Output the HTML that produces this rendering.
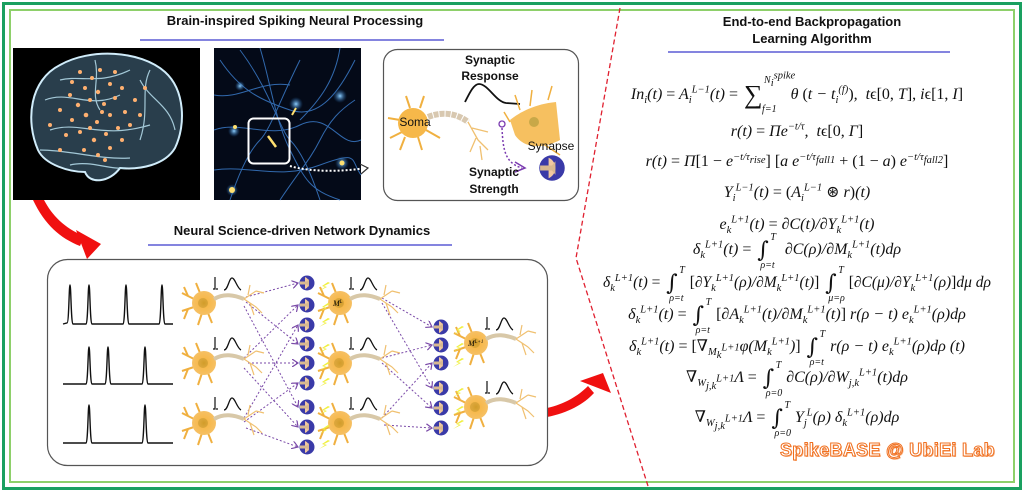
<!DOCTYPE html>
<html><head><meta charset="utf-8">
<style>
html,body{margin:0;padding:0;background:#fff;}
#c{position:relative;width:1024px;height:492px;overflow:hidden;background:#fff;font-family:"Liberation Sans",sans-serif;}
svg{position:absolute;left:0;top:0;}
.t{position:absolute;font-weight:bold;font-size:13px;color:#111;text-align:center;white-space:nowrap;}
.eq{position:absolute;left:587px;width:420px;text-align:center;font-family:"Liberation Serif","DejaVu Serif",serif;font-style:italic;font-size:16px;color:#111;white-space:nowrap;line-height:18px;}
.eq sup,.eq sub{font-size:10.5px;line-height:0;}
.n{font-style:normal;}
.int{display:inline-block;position:relative;font-family:"DejaVu Serif",serif;font-size:22px;line-height:18px;height:18px;font-style:normal;vertical-align:-3px;margin:0 12px 0 2px;}
.int .hi{position:absolute;left:13px;top:-9px;font-size:10px;line-height:10px;font-style:italic;font-family:"Liberation Serif",serif;}
.int .lo{position:absolute;left:3px;top:19px;font-size:10px;line-height:10px;font-style:italic;font-family:"Liberation Serif",serif;white-space:nowrap;}
.sum{display:inline-block;position:relative;font-size:26px;line-height:18px;height:18px;font-style:normal;vertical-align:-4px;margin:0 28px 0 2px;}
.sum .hi{position:absolute;left:20px;top:-10px;font-size:10px;line-height:10px;font-style:italic;white-space:nowrap;}
.sum .lo{position:absolute;left:18px;top:19px;font-size:10px;line-height:10px;font-style:italic;white-space:nowrap;}
</style></head><body><div id="c">
<svg width="1024" height="492" viewBox="0 0 1024 492">
<defs>
<radialGradient id="so" cx="50%" cy="50%" r="50%"><stop offset="0" stop-color="#e0a020"/><stop offset="0.35" stop-color="#f7b84a"/><stop offset="1" stop-color="#f6c064"/></radialGradient>
<radialGradient id="bl" cx="50%" cy="50%" r="50%"><stop offset="0" stop-color="#8fd0ff"/><stop offset="1" stop-color="#1a5aa0" stop-opacity="0"/></radialGradient>
<marker id="pa" markerWidth="8" markerHeight="8" refX="6" refY="4" orient="auto"><path d="M0,0 L6,4 L0,8" fill="none" stroke="#7a4aa8" stroke-width="1.2"/></marker>
<g id="syn"><circle r="7.5" fill="#3a3aa8"/><path d="M-2,-6 A6.5,6.5 0 0 1 -2,6 Z" fill="#f0c8a0"/><path d="M-7,-1.5 L0,-1.5 L2,-4 L2,4 L0,1.5 L-7,1.5Z" fill="#d8b890"/></g>
<g id="neu">
<path d="M-10,-4 L-22,-10 M-10,4 L-22,8 M-4,-10 L-8,-20 M-2,10 L-6,22 M-16,-7 L-20,-16 M-16,6 L-20,16 M4,10 L8,20" stroke="#f0b040" stroke-width="2" fill="none"/>
<circle r="12" fill="url(#so)"/>
<circle r="5" cx="-1" cy="0" fill="#c89a30" opacity="0.6"/>
<path d="M10,-4 C20,-10 30,-8 40,-4" stroke="#d8c8a8" stroke-width="4" fill="none"/>
<path d="M40,-4 L52,-12 M40,-4 L52,4 M46,0 L50,12 M44,-8 L46,-18 M52,4 L58,10 M52,-12 L60,-10" stroke="#f0c070" stroke-width="1.2" fill="none"/>
<path d="M11,-26 L11,-14 L9,-14 M14,-14 L12,-14" stroke="#111" stroke-width="1.2" fill="none"/>
<path d="M20,-13 C24,-13 25,-25 28,-25 C31,-25 33,-15 37,-13" stroke="#111" stroke-width="1.3" fill="none"/>
</g>
<g id="bolt"><path d="M0,0 L-6,4 L-3,5 L-9,9 L-1,5 L-4,4 L2,1 Z" fill="#f0f040"/></g>
</defs>
<rect x="3.5" y="3.5" width="1017" height="485" fill="none" stroke="#1aa060" stroke-width="3"/>
<rect x="10" y="10" width="1004" height="472" fill="none" stroke="#8ed06a" stroke-width="2"/>
<line x1="140" y1="40" x2="444" y2="40" stroke="#3a3acc" stroke-width="1.3"/>
<line x1="148" y1="245" x2="452" y2="245" stroke="#3a3acc" stroke-width="1.3"/>
<line x1="668" y1="52" x2="950" y2="52" stroke="#3a3acc" stroke-width="1.3"/>
<polyline points="620,8 576,258 648,486" fill="none" stroke="#e02030" stroke-width="1.3" stroke-dasharray="5,3"/>
<rect x="13" y="48" width="187" height="152" fill="#000"/>
<path d="M38,150 C25,120 30,80 60,65 C90,48 140,50 165,72 C185,90 186,125 175,148 C165,165 140,170 120,168 C110,182 90,185 85,172 C70,172 45,165 38,150Z" fill="#5a8aa8" fill-opacity="0.45" stroke="#d0ecfa" stroke-width="2"/>
<path d="M45,100 C70,90 90,110 120,95 M50,130 C80,120 100,140 150,125 M60,80 C80,75 100,85 130,70 M140,80 C150,100 170,105 175,130 M40,150 C70,150 100,160 130,158 M95,60 C100,80 90,95 100,110 M150,70 C140,90 150,110 140,140 M70,165 C90,160 110,170 125,168" stroke="#b8e0f0" stroke-width="1.2" fill="none" opacity="0.85"/>
<g fill="#ffb070">
<circle cx="80" cy="72" r="2"/><circle cx="92" cy="78" r="2"/><circle cx="85" cy="88" r="2"/><circle cx="100" cy="70" r="2"/><circle cx="98" cy="92" r="2.2"/><circle cx="110" cy="84" r="2"/><circle cx="70" cy="95" r="2"/><circle cx="78" cy="105" r="2.2"/><circle cx="90" cy="100" r="2"/><circle cx="104" cy="104" r="2"/><circle cx="115" cy="98" r="2"/><circle cx="122" cy="88" r="2"/><circle cx="60" cy="110" r="2"/><circle cx="72" cy="120" r="2"/><circle cx="86" cy="115" r="2.3"/><circle cx="97" cy="122" r="2"/><circle cx="110" cy="115" r="2"/><circle cx="125" cy="112" r="2"/><circle cx="135" cy="100" r="2"/><circle cx="66" cy="135" r="2"/><circle cx="80" cy="132" r="2"/><circle cx="94" cy="140" r="2.2"/><circle cx="106" cy="134" r="2"/><circle cx="118" cy="128" r="2"/><circle cx="130" cy="125" r="2"/><circle cx="50" cy="125" r="2"/><circle cx="84" cy="150" r="2"/><circle cx="98" cy="155" r="2"/><circle cx="110" cy="148" r="2"/><circle cx="122" cy="140" r="2"/><circle cx="140" cy="115" r="2"/><circle cx="60" cy="150" r="2"/><circle cx="145" cy="88" r="2"/><circle cx="115" cy="72" r="2"/><circle cx="72" cy="82" r="2"/><circle cx="105" cy="160" r="2"/><circle cx="90" cy="128" r="2"/><circle cx="102" cy="112" r="2"/>
</g>
<rect x="214" y="48" width="147" height="152" fill="#040a18"/>
<g stroke="#3a7ac8" stroke-width="1" fill="none" opacity="0.85">
<path d="M220,60 C240,90 260,100 290,110 S340,90 355,60"/><path d="M214,130 C240,120 270,140 300,125 S340,150 361,140"/><path d="M230,200 C240,170 250,150 260,140 S280,100 300,60"/><path d="M320,200 C310,170 300,150 290,140 S270,90 240,50"/><path d="M214,170 C250,165 280,180 320,165 S350,160 361,175"/><path d="M260,48 C270,80 275,120 290,150 S310,190 340,200"/><path d="M340,48 C335,80 320,100 300,120"/><path d="M214,95 C240,100 260,80 290,85"/><path d="M355,100 C340,110 330,120 320,140 S300,170 280,200"/>
</g>
<circle cx="234" cy="131" r="6" fill="url(#bl)"/><circle cx="296" cy="104" r="7" fill="url(#bl)"/><circle cx="340" cy="96" r="7" fill="url(#bl)"/><circle cx="342" cy="163" r="7" fill="url(#bl)"/><circle cx="232" cy="190" r="6" fill="url(#bl)"/><circle cx="240" cy="86" r="5" fill="url(#bl)"/>
<circle cx="232" cy="190" r="3" fill="#ffe070"/><circle cx="342" cy="163" r="2.5" fill="#ffe070"/><circle cx="235" cy="127" r="2" fill="#ffe070"/><line x1="268" y1="136" x2="276" y2="147" stroke="#ffe070" stroke-width="2.5"/><line x1="292" y1="115" x2="296" y2="108" stroke="#ffe070" stroke-width="2"/>
<rect x="248.5" y="118.5" width="41" height="45" rx="5" fill="none" stroke="#fff" stroke-width="2"/>
<path d="M290,166 C310,172 340,172 366,168" stroke="#fff" stroke-width="2" stroke-dasharray="2,2" fill="none"/>
<path d="M360,164 L368,168 L361,174" stroke="#333" stroke-width="1.2" fill="none"/>
<rect x="383.5" y="49.5" width="195" height="151" rx="14" fill="#fff" stroke="#555" stroke-width="1.2"/>
<path d="M465,102 C470,92 474,84 479,84 C488,84 496,102 506,103 L520,104" stroke="#111" stroke-width="1.8" fill="none"/>
<g stroke="#f0b040" stroke-width="2" fill="none"><path d="M400,120 L388,118 M402,132 L390,138 M410,108 L406,96 M420,108 L424,96 M418,137 L422,150 M405,137 L400,150 M426,130 L440,138"/></g>
<circle cx="413" cy="123" r="15" fill="#f6b84a"/>
<path d="M428,117 C440,112 455,112 468,122" stroke="#d8c8b0" stroke-width="6" stroke-dasharray="5,1" fill="none"/>
<path d="M468,122 L478,140 M472,128 L488,132 M476,138 L470,152 M478,140 L488,150 M480,146 L482,160" stroke="#f0c070" stroke-width="1.3" fill="none"/>
<path d="M510,120 C520,112 535,104 556,102 L560,140 C545,148 525,150 515,135 Z" fill="#f6c060"/>
<circle cx="534" cy="122" r="5" fill="#c8a848"/>
<path d="M520,110 L515,95 M530,106 L532,90 M548,100 L552,86 M510,122 L504,112 M545,145 L560,155" stroke="#f0b040" stroke-width="1.5" fill="none"/>
<circle cx="502" cy="124" r="3" fill="none" stroke="#7a3ab0" stroke-width="1.3"/>
<path d="M502,128 C503,150 505,163 522,168" stroke="#7a3ab0" stroke-width="1.5" stroke-dasharray="2,2" fill="none"/>
<path d="M515,162 L525,168 L515,172" stroke="#7a3ab0" stroke-width="1.5" fill="none"/>
<g transform="translate(552,168) scale(1.7)"><use href="#syn"/></g>
<path d="M33,200 C45,225 60,238 80,246 L84,236 C64,228 52,215 44,200 Z" fill="#f01010"/>
<path d="M76,230 L101,244 L87,259 Z" fill="#f01010"/>
<path d="M547,408 C565,404 578,396 588,386 L594,393 C584,404 568,413 547,417 Z" fill="#f01010"/>
<path d="M580,381 L603,373 L611,393 Z" fill="#f01010"/>
<rect x="47.5" y="259.5" width="500" height="206" rx="20" fill="#fff" stroke="#555" stroke-width="1.2"/>
<g stroke="#111" stroke-width="1.4" fill="none">
<path d="M63,324 L67,323 C69,323 69,285 70,285 C71,285 71,323 73,324 L86,324 C88,323 88,285 89,285 C90,285 90,323 92,324 L123,324 C125,323 125,285 126,285 C127,285 127,323 129,324 L159,324 C161,323 161,285 162,285 C163,285 163,323 165,324 L173,324"/>
<path d="M63,384 L86,384 C88,383 88,347 89,347 C90,347 90,383 92,384 L105,384 C107,383 107,347 108,347 C109,347 109,383 111,384 L142,384 C144,383 144,347 145,347 C146,347 146,383 148,384 L173,384"/>
<path d="M63,443 L86,443 C88,442 88,405 89,405 C90,405 90,442 92,443 L142,443 C144,442 144,405 145,405 C146,405 146,442 148,443 L173,443"/>
</g>
<g stroke="#7a4aa8" stroke-width="1" stroke-dasharray="2,2" fill="none" marker-end="url(#pa)">
<line x1="246" y1="297" x2="298" y2="283"/><line x1="246" y1="302" x2="298" y2="344"/><line x1="244" y1="306" x2="298" y2="407"/>
<line x1="244" y1="358" x2="298" y2="305"/><line x1="248" y1="363" x2="298" y2="363"/><line x1="244" y1="368" x2="298" y2="427"/>
<line x1="244" y1="418" x2="298" y2="325"/><line x1="244" y1="422" x2="298" y2="383"/><line x1="246" y1="428" x2="298" y2="447"/>
<line x1="382" y1="298" x2="432" y2="327"/><line x1="382" y1="303" x2="432" y2="388"/>
<line x1="382" y1="358" x2="432" y2="345"/><line x1="382" y1="363" x2="432" y2="408"/>
<line x1="382" y1="418" x2="432" y2="363"/><line x1="384" y1="425" x2="432" y2="428"/>
</g>
<use href="#neu" x="204" y="303"/><use href="#neu" x="204" y="363"/><use href="#neu" x="204" y="423"/>
<use href="#neu" x="340" y="303"/><use href="#neu" x="340" y="363"/><use href="#neu" x="340" y="423"/>
<use href="#neu" x="476" y="343"/><use href="#neu" x="476" y="407"/>
<use href="#syn" x="307" y="283"/><use href="#syn" x="307" y="305"/><use href="#syn" x="307" y="325"/><use href="#syn" x="307" y="344"/><use href="#syn" x="307" y="363"/><use href="#syn" x="307" y="383"/><use href="#syn" x="307" y="407"/><use href="#syn" x="307" y="427"/><use href="#syn" x="307" y="447"/>
<use href="#syn" x="441" y="327"/><use href="#syn" x="441" y="345"/><use href="#syn" x="441" y="363"/><use href="#syn" x="441" y="388"/><use href="#syn" x="441" y="408"/><use href="#syn" x="441" y="428"/>
<use href="#bolt" x="328" y="282"/><use href="#bolt" x="328" y="303"/><use href="#bolt" x="328" y="318"/><use href="#bolt" x="328" y="344"/><use href="#bolt" x="328" y="362"/><use href="#bolt" x="328" y="378"/><use href="#bolt" x="328" y="406"/><use href="#bolt" x="328" y="425"/><use href="#bolt" x="328" y="440"/>
<use href="#bolt" x="462" y="326"/><use href="#bolt" x="462" y="343"/><use href="#bolt" x="462" y="358"/><use href="#bolt" x="462" y="388"/><use href="#bolt" x="462" y="406"/><use href="#bolt" x="462" y="420"/>
<text x="333" y="306" font-family="Liberation Serif" font-style="italic" font-size="8">M<tspan font-size="5" dy="-3">L</tspan></text>
<text x="468" y="346" font-family="Liberation Serif" font-style="italic" font-size="8">M<tspan font-size="5" dy="-3">L+1</tspan></text>
</svg>

<div class="t" style="left:145px;top:13px;width:300px;">Brain-inspired Spiking Neural Processing</div>
<div class="t" style="left:152px;top:223px;width:300px;">Neural Science-driven Network Dynamics</div>
<div class="t" style="left:662px;top:13px;width:300px;line-height:17px;">End-to-end Backpropagation<br>Learning Algorithm</div>
<div class="t" style="left:440px;top:52px;width:100px;font-size:12px;line-height:16px;">Synaptic<br>Response</div>
<div class="t" style="left:444px;top:164px;width:100px;font-size:12px;line-height:17px;">Synaptic<br>Strength</div>
<div class="t" style="left:395px;top:115px;width:40px;font-size:12px;font-weight:normal;">Soma</div>
<div class="t" style="left:521px;top:139px;width:60px;font-size:12px;font-weight:normal;">Synapse</div>

<div class="eq" style="top:86px;">In<sub>i</sub>(t) <span class="n">=</span> A<sub>i</sub><sup>L−1</sup>(t) <span class="n">=</span> <span class="sum">∑<span class="hi">N<sub>i</sub><sup>spike</sup></span><span class="lo">f=1</span></span>θ <span class="n">(</span>t − t<sub>i</sub><sup>(f)</sup><span class="n">)</span>,&nbsp; t<span class="n">ϵ[0,</span> T<span class="n">],</span> i<span class="n">ϵ[1,</span> I<span class="n">]</span></div>
<div class="eq" style="top:123px;">r(t) <span class="n">=</span> Πe<sup>−t/τ</sup>,&nbsp; t<span class="n">ϵ[0,</span> Γ<span class="n">]</span></div>
<div class="eq" style="top:153px;">r(t) <span class="n">=</span> Π<span class="n">[1 −</span> e<sup>−t/τ<sub>rise</sub></sup><span class="n">] [</span>a e<sup>−t/τ<sub>fall1</sub></sup> <span class="n">+ (1 −</span> a<span class="n">)</span> e<sup>−t/τ<sub>fall2</sub></sup><span class="n">]</span></div>
<div class="eq" style="top:184px;">Y<sub>i</sub><sup>L−1</sup>(t) <span class="n">= (</span>A<sub>i</sub><sup>L−1</sup> <span class="n">⊛</span> r<span class="n">)</span>(t)</div>
<div class="eq" style="top:216px;">e<sub>k</sub><sup>L+1</sup>(t) <span class="n">=</span> ∂C(t)/∂Y<sub>k</sub><sup>L+1</sup>(t)</div>
<div class="eq" style="top:241px;">δ<sub>k</sub><sup>L+1</sup>(t) <span class="n">=</span> <span class="int">∫<span class="hi">T</span><span class="lo">ρ=t</span></span> ∂C(ρ)/∂M<sub>k</sub><sup>L+1</sup>(t)dρ</div>
<div class="eq" style="top:274px;left:585px;width:424px;font-size:15.5px;">δ<sub>k</sub><sup>L+1</sup>(t) <span class="n">=</span> <span class="int">∫<span class="hi">T</span><span class="lo">ρ=t</span></span><span class="n">[</span>∂Y<sub>k</sub><sup>L+1</sup>(ρ)/∂M<sub>k</sub><sup>L+1</sup>(t)<span class="n">]</span> <span class="int">∫<span class="hi">T</span><span class="lo">μ=ρ</span></span><span class="n">[</span>∂C(μ)/∂Y<sub>k</sub><sup>L+1</sup>(ρ)<span class="n">]</span>dμ dρ</div>
<div class="eq" style="top:306px;">δ<sub>k</sub><sup>L+1</sup>(t) <span class="n">=</span> <span class="int">∫<span class="hi">T</span><span class="lo">ρ=t</span></span><span class="n">[</span>∂A<sub>k</sub><sup>L+1</sup>(t)/∂M<sub>k</sub><sup>L+1</sup>(t)<span class="n">]</span> r(ρ − t) e<sub>k</sub><sup>L+1</sup>(ρ)dρ</div>
<div class="eq" style="top:338px;">δ<sub>k</sub><sup>L+1</sup>(t) <span class="n">= [</span>∇<sub>M<sub>k</sub><sup>L+1</sup></sub>φ(M<sub>k</sub><sup>L+1</sup>)<span class="n">]</span> <span class="int">∫<span class="hi">T</span><span class="lo">ρ=t</span></span>r(ρ − t) e<sub>k</sub><sup>L+1</sup>(ρ)dρ (t)</div>
<div class="eq" style="top:369px;">∇<sub>W<sub>j,k</sub><sup>L+1</sup></sub>Λ <span class="n">=</span> <span class="int">∫<span class="hi">T</span><span class="lo">ρ=0</span></span>∂C(ρ)/∂W<sub>j,k</sub><sup>L+1</sup>(t)dρ</div>
<div class="eq" style="top:409px;">∇<sub>W<sub>j,k</sub><sup>L+1</sup></sub>Λ <span class="n">=</span> <span class="int">∫<span class="hi">T</span><span class="lo">ρ=0</span></span>Y<sub>j</sub><sup>L</sup>(ρ) δ<sub>k</sub><sup>L+1</sup>(ρ)dρ</div>

<div style="position:absolute;left:780px;top:440px;font-family:'Liberation Sans',sans-serif;font-weight:bold;font-size:18px;color:#fff;-webkit-text-stroke:1px #f07020;letter-spacing:0.3px;white-space:nowrap;text-shadow:1px 1px 0 #f8b080;">SpikeBASE @ UbiEi Lab</div>
</div></body></html>
